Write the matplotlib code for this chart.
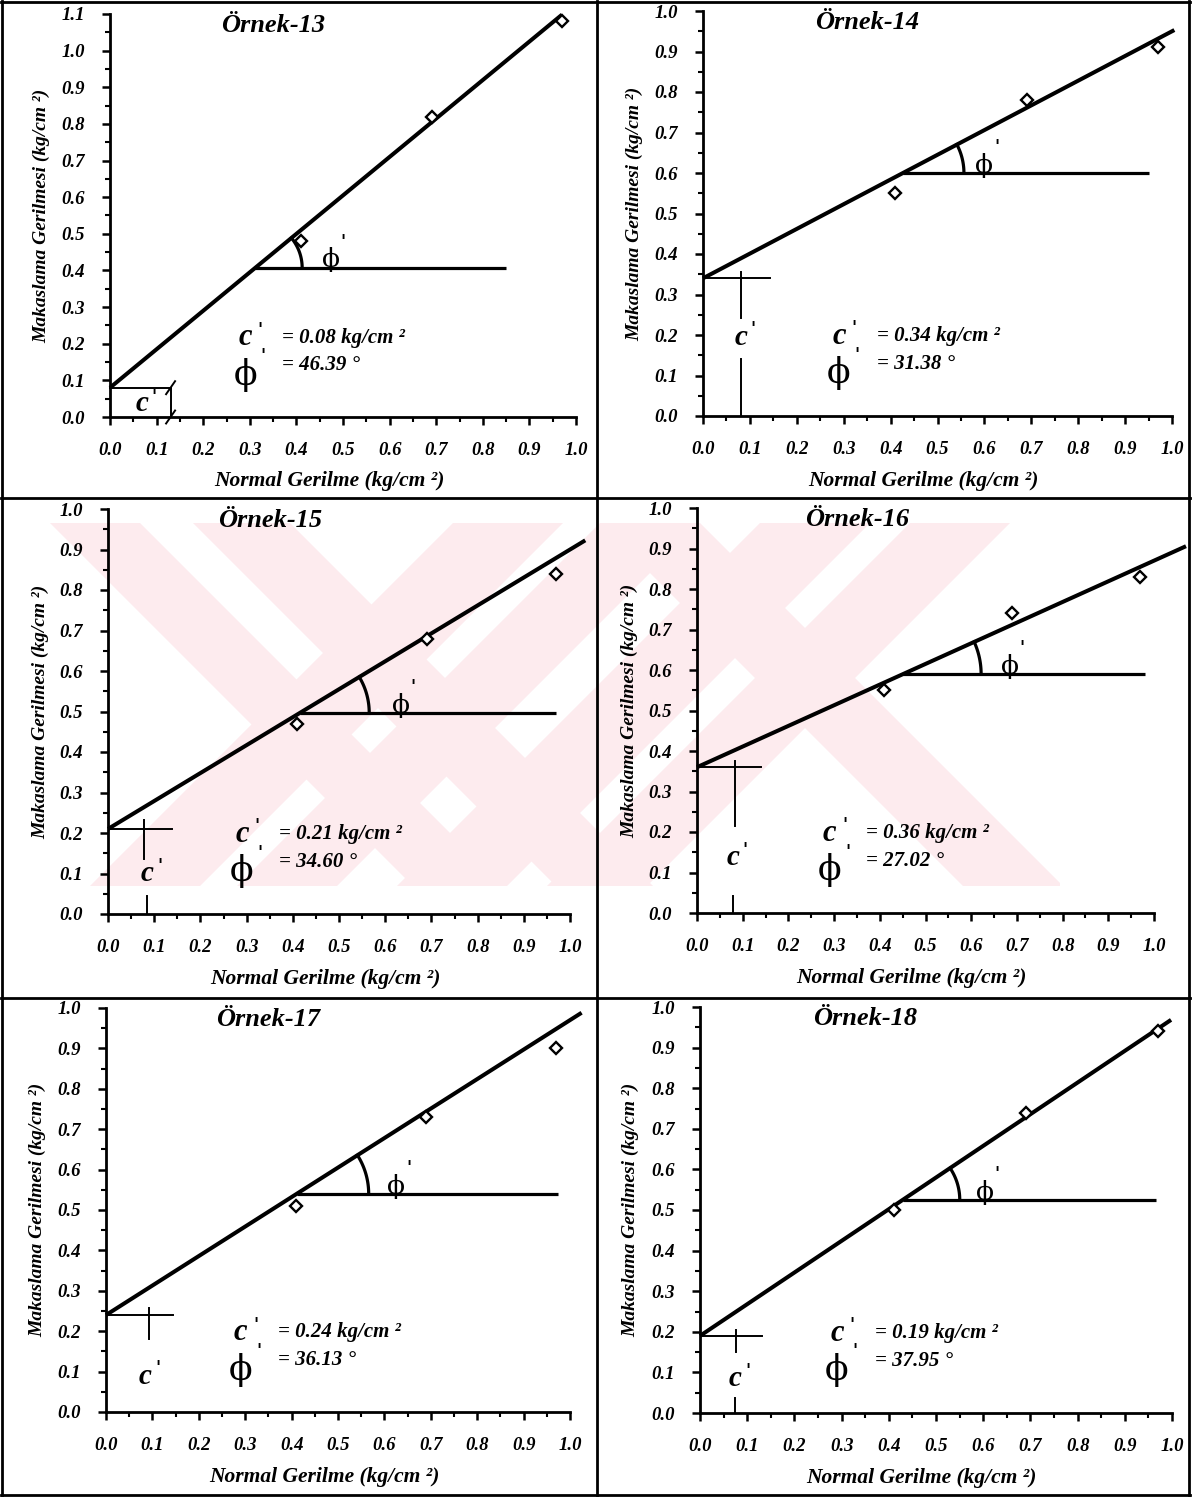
import numpy as np
import matplotlib
matplotlib.use("Agg")
import matplotlib.pyplot as plt
from matplotlib.patches import Polygon, Rectangle

plt.rcParams["font.family"] = ["Liberation Serif", "DejaVu Serif"]

# ---- data -------------------------------------------------------------
samples = ["Örnek-13", "Örnek-14", "Örnek-15", "Örnek-16", "Örnek-17", "Örnek-18"]
normal_stress = [0.41, 0.69, 0.97]
shear_13 = [0.48, 0.82, 1.08]
shear_14 = [0.55, 0.78, 0.91]
shear_15 = [0.47, 0.68, 0.84]
shear_16 = [0.55, 0.74, 0.83]
shear_17 = [0.51, 0.73, 0.90]
shear_18 = [0.50, 0.74, 0.94]
shear_stress = [shear_13, shear_14, shear_15, shear_16, shear_17, shear_18]
cohesion = [0.08, 0.34, 0.21, 0.36, 0.24, 0.19]          # c' (kg/cm2)
friction_angle = [46.39, 31.38, 34.60, 27.02, 36.13, 37.95]  # phi' (deg)
y_max = [1.1, 1.0, 1.0, 1.0, 1.0, 1.0]

# ---- layout (figure pixels) -------------------------------------------
W, H = 1193, 1497
axes_px = [  # x(0), y-top, x(1.0), y(0)
    (110, 14, 576, 417),
    (703, 11, 1172, 416),
    (108, 509, 570, 914),
    (697, 508, 1154, 913),
    (106, 1008, 570, 1412),
    (700, 1007, 1172, 1413),
]
fit_x_end = [0.97, 1.005, 1.033, 1.07, 1.025, 0.998]
angle_level = [0.407, 0.60, 0.497, 0.59, 0.54, 0.525]
angle_line_end = [0.85, 0.95, 0.97, 0.98, 0.975, 0.967]
arc_radius_px = [47, 61, 69, 78, 72, 57]
phi_label_x = [0.474, 0.60, 0.634, 0.684, 0.625, 0.603]
# c' marker: (horizontal end, vertical x, vertical top, vertical bottom,
#             label x, label y, lower stub top or None)
c_marker = [
    None,
    (0.142, 0.080, 0.356, 0.242, 0.080, 0.195, 0.140),
    (0.139, 0.079, 0.232, 0.136, 0.085, 0.099, 0.044),
    (0.141, 0.084, 0.375, 0.215, 0.078, 0.137, 0.042),
    (0.145, 0.092, 0.258, 0.180, 0.085, 0.089, None),
    (0.131, 0.077, 0.204, 0.150, 0.075, 0.084, 0.037),
]

fig = plt.figure(figsize=(W / 100, H / 100), dpi=100)
fig.patch.set_facecolor("white")


def fx(px):
    return px / W


def fy(py):
    return 1 - py / H


# ---- faint background emblem in the middle row -------------------------
pink = "#fdebee"
top, bot = 523, 886
span = bot - top
clip = Rectangle((fx(50), fy(bot)), fx(1060) - fx(50), fy(top) - fy(bot),
                 transform=fig.transFigure, facecolor="none", edgecolor="none")
fig.patches.append(clip)
down_right = [(50, 140), (193, 290), (600, 700)]
down_left = [(453, 563), (600, 700), (760, 870), (910, 1010)]
bands = []
for a, b in down_right:
    bands.append([(a, top), (b, top), (b + span, bot), (a + span, bot)])
for a, b in down_left:
    bands.append([(a, top), (b, top), (b - span, bot), (a - span, bot)])
for poly in bands:
    p = Polygon([(fx(x), fy(y)) for x, y in poly], closed=True,
                transform=fig.transFigure, facecolor=pink, edgecolor="none",
                zorder=-5)
    p.set_clip_path(clip)
    fig.patches.append(p)

# ---- panel frames -------------------------------------------------------
frame_kw = dict(color="black", lw=2.0, transform=fig.transFigure)
for x in (2, 597, 1189):
    fig.add_artist(plt.Line2D([fx(x), fx(x)], [fy(1), fy(1495)], **frame_kw))
for y in (1.5, 497.5, 997.5, 1494.5):
    fig.add_artist(plt.Line2D([fx(1), fx(1190)], [fy(y), fy(y)], **frame_kw))

bi = dict(fontweight="bold", fontstyle="italic")
prime_kw = dict(fontsize=12, fontweight="bold", family=["DejaVu Serif"],
                ha="center", va="center", textcoords="offset points")

for i in range(6):
    x0, yt, x1, yb = axes_px[i]
    ax = fig.add_axes([fx(x0), fy(yb), fx(x1) - fx(x0), fy(yt) - fy(yb)])
    ax.set_facecolor("none")
    ax.set_xlim(0, 1.0)
    ax.set_ylim(0, y_max[i])
    for s in ("top", "right"):
        ax.spines[s].set_visible(False)
    for s in ("left", "bottom"):
        ax.spines[s].set_linewidth(2.0)

    xt = np.round(np.arange(0, 1.0001, 0.1), 2)
    yt_ = np.round(np.arange(0, y_max[i] + 0.0001, 0.1), 2)
    ax.set_xticks(xt)
    ax.set_xticklabels([f"{v:.1f}" for v in xt], **bi, fontsize=13.5)
    ax.set_yticks(yt_)
    ax.set_yticklabels([f"{v:.1f}" for v in yt_], **bi, fontsize=13.5)
    ax.set_xticks(np.round(np.arange(0.05, 1.0, 0.1), 3), minor=True)
    ax.set_yticks(np.round(np.arange(0.05, y_max[i], 0.1), 3), minor=True)
    ax.tick_params(which="major", direction="out", length=6, width=1.8)
    ax.tick_params(which="minor", direction="out", length=3.5, width=1.5)
    ax.tick_params(axis="x", which="major", pad=12)
    ax.tick_params(axis="y", which="major", pad=12)

    ax.set_xlabel("Normal Gerilme (kg/cm ²)", **bi, fontsize=15.5)
    ax.set_ylabel("Makaslama Gerilmesi (kg/cm ²)", **bi, fontsize=14)
    ax.xaxis.set_label_coords(0.47, -0.135)
    ax.yaxis.set_label_coords(-0.128, 0.5)

    ax.text(0.35, 0.972, samples[i], transform=ax.transAxes, ha="center",
            va="center", **bi, fontsize=19)

    c = cohesion[i]
    slope = np.tan(np.radians(friction_angle[i]))

    # failure envelope
    xs = np.array([0.0, fit_x_end[i]])
    ax.plot(xs, c + slope * xs, color="black", lw=2.9, clip_on=False,
            solid_capstyle="butt", zorder=3)

    # measured points
    ax.plot(normal_stress, shear_stress[i], linestyle="none", marker="D",
            markersize=6, markerfacecolor="white", markeredgecolor="black",
            markeredgewidth=1.7, zorder=4, clip_on=False)

    # horizontal reference and friction-angle arc
    yh = angle_level[i]
    xh = (yh - c) / slope
    ax.plot([xh, angle_line_end[i]], [yh, yh], color="black", lw=2.3,
            solid_capstyle="butt", zorder=3)
    px_per_x = (x1 - x0) / 1.0
    px_per_y = (yb - yt) / y_max[i]
    theta = np.arctan(slope * px_per_y / px_per_x)
    t = np.linspace(0, theta, 40)
    r = arc_radius_px[i]
    ax.plot(xh + r * np.cos(t) / px_per_x, yh + r * np.sin(t) / px_per_y,
            color="black", lw=2.3, zorder=3)
    ax.text(phi_label_x[i], yh - 0.012, "ϕ", ha="center", va="bottom",
            fontsize=19, family=["DejaVu Serif"], zorder=5)
    ax.annotate("'", xy=(phi_label_x[i], yh), xytext=(9, 19), **prime_kw)

    # cohesion marker
    if c_marker[i] is None:
        bw = 0.13
        ax.plot([0, bw], [c, c], color="black", lw=1.4, clip_on=False)
        ax.plot([bw, bw], [0, c], color="black", lw=1.4, clip_on=False)
        dx, dy = 4.5 / px_per_x, 6.5 / px_per_y
        for yy in (0, c):
            ax.plot([bw - dx, bw + dx], [yy - dy, yy + dy], color="black",
                    lw=1.4, clip_on=False)
        ax.text(0.068, c / 2 - 0.004, "c", ha="center", va="center", **bi,
                fontsize=21)
        ax.annotate("'", xy=(0.068, c / 2), xytext=(9, 4), **prime_kw)
    else:
        hx, vx, vt, vb, lx, ly, stub = c_marker[i]
        ax.plot([0, hx], [c, c], color="black", lw=1.4)
        ax.plot([vx, vx], [vb, vt], color="black", lw=1.4)
        if stub is not None:
            ax.plot([lx, lx], [0, stub], color="black", lw=1.4)
        ax.text(lx, ly, "c", ha="center", va="center", **bi, fontsize=21)
        ax.annotate("'", xy=(lx, ly), xytext=(9, 6), **prime_kw)

    # parameter summary
    ax.text(0.29, 0.197, "c", transform=ax.transAxes, ha="center",
            va="center", **bi, fontsize=22)
    ax.annotate("'", xy=(0.29, 0.197), xycoords="axes fraction",
                xytext=(11, 6), **prime_kw)
    ax.text(0.37, 0.197, f"= {c:.2f} kg/cm ²", transform=ax.transAxes,
            ha="left", va="center", **bi, fontsize=15)
    ax.text(0.29, 0.105, "ϕ", transform=ax.transAxes, ha="center",
            va="center", fontsize=25, family=["DejaVu Serif"])
    ax.annotate("'", xy=(0.29, 0.105), xycoords="axes fraction",
                xytext=(13, 14), **prime_kw)
    ax.text(0.37, 0.128, f"= {friction_angle[i]:.2f} °",
            transform=ax.transAxes, ha="left", va="center", **bi,
            fontsize=15)

fig.savefig("out.png", dpi=100, facecolor="white")
